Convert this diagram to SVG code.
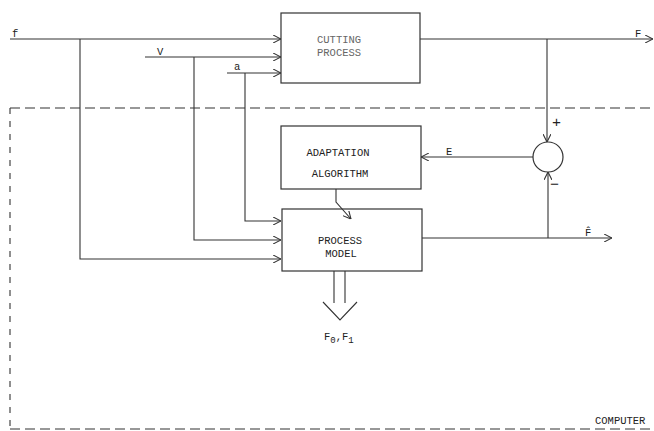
<svg xmlns="http://www.w3.org/2000/svg" width="654" height="431" viewBox="0 0 654 431">
<style>
.box{fill:none;stroke:#333;stroke-width:1.2}
.ln{fill:none;stroke:#333;stroke-width:1.1}
.dash{fill:none;stroke:#333;stroke-width:1.1}
.t{font-family:"Liberation Mono",monospace;font-size:10.5px;fill:#222}
.tl{font-family:"Liberation Mono",monospace;font-size:10.5px;fill:#666}
.sg{font-family:"Liberation Mono",monospace;font-size:15px;fill:#222}
.m{text-anchor:middle}
</style>
<defs>
<marker id="ah" viewBox="0 0 8 8" refX="8" refY="4" markerWidth="8" markerHeight="8" markerUnits="userSpaceOnUse" orient="auto">
<path d="M0,0 L8,4 L0,8" fill="none" stroke="#333" stroke-width="1.1"/>
</marker>
</defs>
<rect width="654" height="431" fill="#fff"/>
<g id="computer">
<path class="dash" d="M10,108 H654" stroke-dasharray="10 5"/>
<path class="dash" d="M10,108 V429" stroke-dasharray="6 7"/>
<path class="dash" d="M10,429 H654" stroke-dasharray="10 5"/>
<text class="t" x="595" y="424">COMPUTER</text>
</g>
<g id="cutting">
<rect class="box" x="281" y="13" width="139" height="70"/>
<text class="tl" x="317" y="43">CUTTING</text>
<text class="tl" x="317" y="56">PROCESS</text>
</g>
<g id="adaptation">
<rect class="box" x="281" y="126" width="140" height="63"/>
<text class="t m" x="338" y="156">ADAPTATION</text>
<text class="t m" x="340" y="177">ALGORITHM</text>
</g>
<g id="model">
<rect class="box" x="282" y="209" width="140" height="62"/>
<text class="t m" x="340" y="244">PROCESS</text>
<text class="t m" x="341" y="257">MODEL</text>
</g>
<g id="sum">
<circle class="box" cx="548" cy="157" r="15"/>
<text class="sg" x="552" y="127">+</text>
<text class="sg" x="550" y="189">−</text>
</g>
<g id="connectors">
<path class="ln" d="M10,39 H281" marker-end="url(#ah)"/>
<path class="ln" d="M80,39 V259 H281" marker-end="url(#ah)"/>
<path class="ln" d="M145,57 H281" marker-end="url(#ah)"/>
<path class="ln" d="M194,57 V240 H281" marker-end="url(#ah)"/>
<path class="ln" d="M227,73 H281" marker-end="url(#ah)"/>
<path class="ln" d="M245,73 V221 H281" marker-end="url(#ah)"/>
<path class="ln" d="M420,39 H653" marker-end="url(#ah)"/>
<path class="ln" d="M547,39 V142" marker-end="url(#ah)"/>
<path class="ln" d="M533,157 H421" marker-end="url(#ah)"/>
<path class="ln" d="M422,238 H612" marker-end="url(#ah)"/>
<path class="ln" d="M548,238 V172" marker-end="url(#ah)"/>
<path class="ln" d="M336,189 V202 L351,219" marker-end="url(#ah)"/>
<path class="ln" d="M334,271 V303 M345,271 V303 M323,302 L340,320 L357,302"/>
<text class="t" x="12" y="37">f</text>
<text class="t" x="157" y="55">V</text>
<text class="t" x="234" y="70">a</text>
<text class="t" x="635" y="37">F</text>
<text class="t" x="446" y="155">E</text>
<text class="t" x="585" y="236">F̂</text>
<text class="t" x="324" y="340">F<tspan font-size="9" dy="3">0</tspan><tspan dy="-3">,F</tspan><tspan font-size="9" dy="3">1</tspan></text>
</g>
</svg>
